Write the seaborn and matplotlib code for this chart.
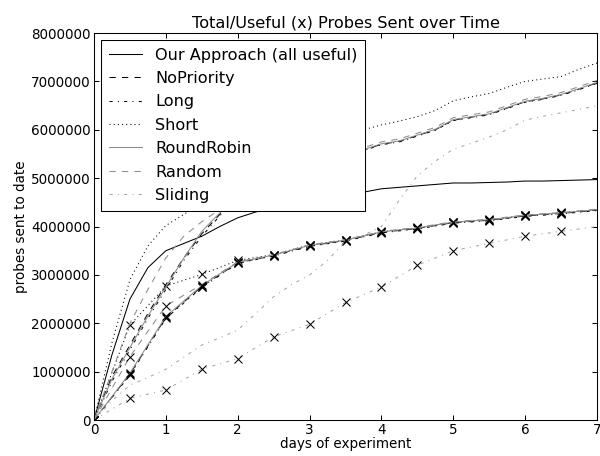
import matplotlib
matplotlib.use('Agg')
import matplotlib.pyplot as plt
import seaborn as sns
import pandas as pd

# time grids (days)
days = [i * 0.25 for i in range(29)]
days_useful = [i * 0.5 for i in range(15)]

# total probes sent (millions)
our_total = [0, 1.35, 2.5, 3.15, 3.5, 3.65, 3.8, 4.0, 4.18, 4.3, 4.4, 4.48, 4.55, 4.6, 4.66,
             4.71, 4.78, 4.81, 4.84, 4.87, 4.9, 4.9, 4.91, 4.92, 4.94, 4.94, 4.95, 4.96, 4.97]
nopri_total = [0, 0.9, 1.55, 2.2, 2.8, 3.35, 3.85, 4.25, 4.6, 4.8, 4.95, 5.1, 5.25, 5.38, 5.5,
               5.58, 5.7, 5.76, 5.88, 6.0, 6.2, 6.26, 6.32, 6.45, 6.58, 6.64, 6.72, 6.84, 6.97]
long_total = [0, 0.8, 1.45, 2.1, 2.7, 3.3, 3.8, 4.22, 4.58, 4.78, 4.94, 5.08, 5.23, 5.37, 5.49,
              5.57, 5.69, 5.75, 5.87, 5.99, 6.19, 6.25, 6.31, 6.44, 6.57, 6.63, 6.71, 6.83, 6.96]
short_total = [0, 1.6, 2.9, 3.6, 4.02, 4.25, 4.5, 4.78, 5.0, 5.2, 5.4, 5.55, 5.7, 5.8, 5.9,
               6.0, 6.1, 6.18, 6.27, 6.4, 6.6, 6.68, 6.75, 6.88, 7.0, 7.05, 7.1, 7.25, 7.38]
rr_total = [0, 0.85, 1.5, 2.15, 2.75, 3.35, 3.9, 4.28, 4.6, 4.8, 4.96, 5.11, 5.26, 5.39, 5.51,
            5.59, 5.71, 5.77, 5.89, 6.01, 6.21, 6.27, 6.33, 6.46, 6.59, 6.65, 6.73, 6.85, 6.98]
random_total = [0, 1.0, 2.0, 2.7, 3.35, 3.8, 4.1, 4.35, 4.65, 4.85, 5.0, 5.15, 5.3, 5.43, 5.55,
                5.63, 5.75, 5.81, 5.93, 6.05, 6.25, 6.31, 6.37, 6.5, 6.63, 6.69, 6.77, 6.89, 7.02]
sliding_total = [0, 0.4, 0.72, 0.88, 1.05, 1.3, 1.55, 1.7, 1.86, 2.2, 2.55, 2.8, 3.0, 3.3, 3.7,
                 3.82, 4.0, 4.55, 5.05, 5.35, 5.6, 5.72, 5.85, 6.0, 6.2, 6.28, 6.35, 6.42, 6.5]

# useful probes (millions), every half day
nopri_useful = [0, 0.95, 2.12, 2.76, 3.25, 3.4, 3.6, 3.71, 3.88, 3.96, 4.08, 4.13, 4.22, 4.27, 4.34]
long_useful = [0, 0.93, 2.1, 2.74, 3.24, 3.39, 3.59, 3.7, 3.87, 3.95, 4.07, 4.12, 4.21, 4.26, 4.33]
short_useful = [0, 1.96, 2.77, 3.01, 3.3, 3.42, 3.62, 3.72, 3.89, 3.97, 4.09, 4.14, 4.23, 4.28, 4.35]
rr_useful = [0, 0.97, 2.14, 2.78, 3.26, 3.41, 3.61, 3.72, 3.89, 3.97, 4.09, 4.14, 4.23, 4.28, 4.35]
random_useful = [0, 1.31, 2.36, 2.8, 3.27, 3.42, 3.62, 3.73, 3.9, 3.98, 4.1, 4.15, 4.24, 4.29, 4.36]
sliding_useful = [0, 0.45, 0.62, 1.05, 1.27, 1.72, 1.98, 2.43, 2.75, 3.2, 3.5, 3.65, 3.8, 3.9, 4.0]

plt.rcParams['font.family'] = 'DejaVu Sans'
plt.rcParams['xtick.direction'] = 'in'
plt.rcParams['ytick.direction'] = 'in'
plt.rcParams['xtick.top'] = True
plt.rcParams['ytick.right'] = True
plt.rcParams['xtick.major.size'] = 5
plt.rcParams['ytick.major.size'] = 5

fig = plt.figure(figsize=(8, 6.08), dpi=75)
ax = fig.add_axes([0.1567, 0.0789, 0.8383, 0.8487])

dash = (0, (6, 6))
dashdot = (0, (3, 5, 1, 5))
dot = (0, (1, 3))

series = [
    ('Our Approach (all useful)', our_total, None, 'black', '-'),
    ('NoPriority', nopri_total, nopri_useful, 'black', dash),
    ('Long', long_total, long_useful, 'black', dashdot),
    ('Short', short_total, short_useful, 'black', dot),
    ('RoundRobin', rr_total, rr_useful, '0.55', '-'),
    ('Random', random_total, random_useful, '0.55', dash),
    ('Sliding', sliding_total, sliding_useful, '0.65', dashdot),
]

for name, tot, useful, col, ls in series:
    df = pd.DataFrame({'days': days, 'probes': [v * 1e6 for v in tot]})
    sns.lineplot(data=df, x='days', y='probes', ax=ax, color=col, linestyle=ls,
                 linewidth=1, label=name)
    if useful is not None:
        du = pd.DataFrame({'days': days_useful, 'probes': [v * 1e6 for v in useful]})
        sns.lineplot(data=du, x='days', y='probes', ax=ax, color=col, linestyle=ls,
                     linewidth=1, marker='x', markersize=7, markeredgecolor='black',
                     markeredgewidth=1, markevery=list(range(14)), legend=False)

ax.set_xlim(0, 7)
ax.set_ylim(0, 8000000)
ax.set_xticks(range(8))
ax.set_yticks(range(0, 8000001, 1000000))
ax.ticklabel_format(axis='y', style='plain', useOffset=False)
ax.tick_params(labelsize=13, width=1, pad=3)
for s in ax.spines.values():
    s.set_color('black')
    s.set_linewidth(1)

ax.set_title('Total/Useful (x) Probes Sent over Time', fontsize=15.5, pad=5)
ax.set_xlabel('days of experiment', fontsize=13, labelpad=0)
ax.set_ylabel('probes sent to date', fontsize=13, labelpad=3)

leg = ax.legend(loc='upper left', fontsize=15.5, fancybox=False, framealpha=1,
                edgecolor='black', borderaxespad=0.42, handlelength=2.1,
                handletextpad=0.8, labelspacing=0.52, borderpad=0.48)
leg.get_frame().set_linewidth(1)

fig.savefig('out.png', dpi=75)
